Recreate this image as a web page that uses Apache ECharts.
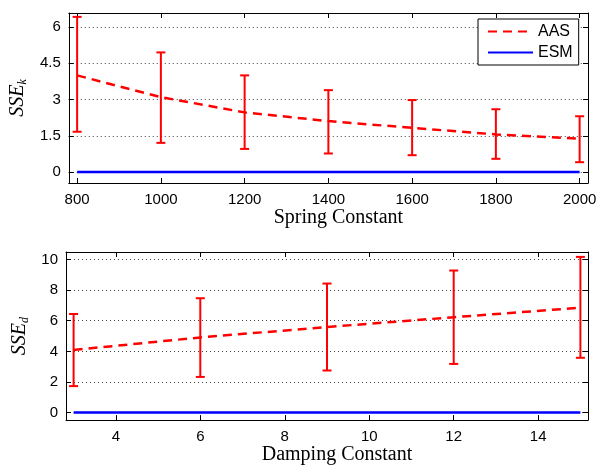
<!DOCTYPE html>
<html>
<head>
<meta charset="utf-8">
<script src="https://cdn.jsdelivr.net/npm/echarts@6/dist/echarts.min.js"></script>
<style>
html, body { margin: 0; padding: 0; background: #fff; }
#chart { width: 600px; height: 466px; }
</style>
</head>
<body>
<div id="chart"></div>
<script>
///////////////////////// data: spring constant panel
var springK = [800, 1000, 1200, 1400, 1600, 1800, 2000];
var aasK = [4.0, 3.1, 2.47, 2.11, 1.83, 1.56, 1.38];
var aasKLow = [1.67, 1.21, 0.96, 0.77, 0.70, 0.55, 0.41];
var aasKHigh = [6.42, 4.95, 4.0, 3.39, 2.98, 2.60, 2.31];
var esmK = [0, 0, 0, 0, 0, 0, 0];
var springTicks = [800, 1000, 1200, 1400, 1600, 1800, 2000];
var sseKTicks = [0, 1.5, 3, 4.5, 6];

///////////////////////// data: damping constant panel
var dampC = [3, 6, 9, 12, 15];
var aasD = [4.09, 4.91, 5.59, 6.23, 6.85];
var aasDLow = [1.73, 2.33, 2.75, 3.18, 3.58];
var aasDHigh = [6.44, 7.47, 8.43, 9.28, 10.17];
var esmD = [0, 0, 0, 0, 0];
var dampTicks = [4, 6, 8, 10, 12, 14];
var sseDTicks = [0, 2, 4, 6, 8, 10];

var sansFont = "Liberation Sans";
var serifFont = "Liberation Serif";

function pairs(xs, ys) {
	var out = [];
	for (var i = 0; i < xs.length; i++) {
		out.push([xs[i], ys[i]]);
	}
	return out;
}
function errRows(xs, lo, hi) {
	var out = [];
	for (var i = 0; i < xs.length; i++) {
		out.push([xs[i], lo[i], hi[i]]);
	}
	return out;
}
// error bar: vertical stroke plus two caps
function renderErr(params, api) {
	var x = api.value(0);
	var p0 = api.coord([x, api.value(1)]);
	var p1 = api.coord([x, api.value(2)]);
	var w = 4.5;
	var st = { stroke: '#ff0000', lineWidth: 2 };
	return {
		type: 'group',
		children: [
			{ type: 'line', shape: { x1: p0[0], y1: p0[1], x2: p1[0], y2: p1[1] }, style: st },
			{ type: 'line', shape: { x1: p0[0] - w, y1: p0[1], x2: p0[0] + w, y2: p0[1] }, style: st },
			{ type: 'line', shape: { x1: p1[0] - w, y1: p1[1], x2: p1[0] + w, y2: p1[1] }, style: st }
		]
	};
}
function plainNum(v) {
	return String(v);
}

function xAx(grid, min, max, ticks, name, pos) {
	var main = pos == 'bottom';
	return {
		type: 'value', gridIndex: grid, position: pos, min: min, max: max,
		axisLine: { show: true, onZero: false, lineStyle: { color: '#000', width: 1 } },
		axisTick: { show: true, inside: true, length: 5, customValues: ticks, lineStyle: { color: '#000' } },
		axisLabel: { show: main, customValues: ticks, formatter: plainNum, margin: 9, color: '#000', fontFamily: sansFont, fontSize: 15 },
		splitLine: { show: false },
		name: main ? name : '', nameLocation: 'middle', nameGap: 20,
		nameTextStyle: { color: '#000', fontFamily: serifFont, fontSize: 20, padding: [0, 0, 0, 20] }
	};
}
function yAx(grid, min, max, ticks, sub, pos) {
	var main = pos == 'left';
	return {
		type: 'value', gridIndex: grid, position: pos, min: min, max: max,
		axisLine: { show: true, onZero: false, lineStyle: { color: '#000', width: 1 } },
		axisTick: { show: true, inside: true, length: 5, customValues: ticks, lineStyle: { color: '#000' } },
		axisLabel: { show: main, customValues: ticks, formatter: plainNum, margin: 8, color: '#000', fontFamily: sansFont, fontSize: 15 },
		splitLine: { show: main, lineStyle: { color: '#444', width: 1, type: [1, 3] } },
		name: main ? '{a|SSE}{b|' + sub + '}' : '', nameLocation: 'middle', nameGap: 35, nameRotate: 90,
		nameTextStyle: {
			color: '#000',
			rich: {
				a: { fontFamily: serifFont, fontStyle: 'italic', fontSize: 20, color: '#000', lineHeight: 22 },
				b: { fontFamily: serifFont, fontStyle: 'italic', fontSize: 12, color: '#000', lineHeight: 22, verticalAlign: 'bottom', padding: [8, 0, 0, 0] }
			}
		}
	};
}

var option = {
	animation: false,
	backgroundColor: '#fff',
	grid: [
		{ left: 66, top: 13, width: 522, height: 170 },
		{ left: 66, top: 252, width: 522, height: 171 }
	],
	legend: {
		data: ['AAS', 'ESM'],
		orient: 'vertical', left: 478, top: 19,
		padding: [4, 6, 4, 9], itemGap: 4, itemWidth: 45, itemHeight: 14,
		borderColor: '#000', borderWidth: 1, backgroundColor: '#fff',
		itemStyle: { opacity: 0, borderWidth: 0 },
		textStyle: { color: '#000', fontFamily: sansFont, fontSize: 16, lineHeight: 17 }
	},
	xAxis: [
		xAx(0, 780, 2020, springTicks, 'Spring Constant', 'bottom'),
		xAx(0, 780, 2020, springTicks, '', 'top'),
		xAx(1, 2.82, 15.18, dampTicks, 'Damping Constant', 'bottom'),
		xAx(1, 2.82, 15.18, dampTicks, '', 'top')
	],
	yAxis: [
		yAx(0, -0.45, 6.58, sseKTicks, 'k', 'left'),
		yAx(0, -0.45, 6.58, sseKTicks, 'k', 'right'),
		yAx(1, -0.49, 10.49, sseDTicks, 'd', 'left'),
		yAx(1, -0.49, 10.49, sseDTicks, 'd', 'right')
	],
	series: [
		{ name: 'ESM', type: 'line', xAxisIndex: 0, yAxisIndex: 0, data: pairs(springK, esmK), symbol: 'none', z: 3,
			lineStyle: { color: '#0000ff', width: 2.5 }, itemStyle: { color: '#0000ff' } },
		{ name: 'AAS', type: 'line', xAxisIndex: 0, yAxisIndex: 0, data: pairs(springK, aasK), symbol: 'none', z: 4,
			lineStyle: { color: '#ff0000', width: 2.5, type: [9, 6] }, itemStyle: { color: '#ff0000' } },
		{ type: 'custom', xAxisIndex: 0, yAxisIndex: 0, data: errRows(springK, aasKLow, aasKHigh), renderItem: renderErr,
			encode: { x: 0, y: [1, 2] }, z: 5 },
		{ name: 'ESM', type: 'line', xAxisIndex: 2, yAxisIndex: 2, data: pairs(dampC, esmD), symbol: 'none', z: 3,
			lineStyle: { color: '#0000ff', width: 2.5 }, itemStyle: { color: '#0000ff' } },
		{ name: 'AAS', type: 'line', xAxisIndex: 2, yAxisIndex: 2, data: pairs(dampC, aasD), symbol: 'none', z: 4,
			lineStyle: { color: '#ff0000', width: 2.5, type: [9, 6] }, itemStyle: { color: '#ff0000' } },
		{ type: 'custom', xAxisIndex: 2, yAxisIndex: 2, data: errRows(dampC, aasDLow, aasDHigh), renderItem: renderErr,
			encode: { x: 0, y: [1, 2] }, z: 5 }
	]
};

var myChart = echarts.init(document.getElementById('chart'), null, { renderer: 'canvas' });
myChart.setOption(option);
</script>
</body>
</html>
